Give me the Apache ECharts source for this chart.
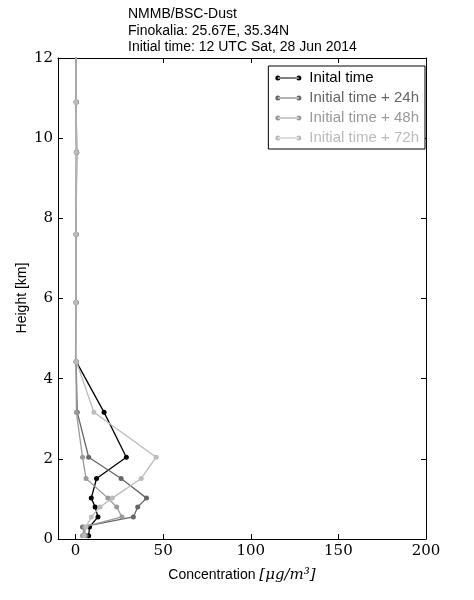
<!DOCTYPE html>
<html>
<head>
<meta charset="utf-8">
<script src="https://cdn.jsdelivr.net/npm/echarts@6/dist/echarts.min.js"></script>
<style>html,body{margin:0;padding:0;background:#fff;}#c{width:474px;height:600px;}</style>
</head>
<body>
<div id="c"></div>
<script>
const heights = [0.08, 0.3, 0.55, 0.8, 1.02, 1.51, 2.04, 3.16, 4.42, 5.9, 7.6, 9.65, 10.9, 12.6];
const t0   = [7.5, 8, 12.8, 11.2, 9, 12, 29, 16.3, 0.5, 0.4, 0.4, 0.6, 0.4, 0.4];
const t24  = [6, 4, 33, 35.5, 40.5, 26, 7.5, 1, 0.3, 0.3, 0.3, 0.6, 0.4, 0.4];
const t48  = [4, 5, 26.5, 23.5, 18.5, 6, 4, 0.5, 0.3, 0.3, 0.3, 0.4, 0.3, 0.3];
const t72  = [5, 6, 9, 14, 21, 37.5, 46, 10.5, 0.5, 0.3, 0.3, 0.4, 0.3, 0.3];
const seriesNames = ['Inital time', 'Initial time + 24h', 'Initial time + 48h', 'Initial time + 72h'];
const seriesColors = ['#000000', '#666666', '#999999', '#bbbbbb'];
const xTicks = [0, 50, 100, 150, 200];
const yTicks = [0, 2, 4, 6, 8, 10, 12];

const allVals = [t0, t24, t48, t72];
const chart = echarts.init(document.getElementById('c'), null, {renderer: 'canvas'});
const serif = '"DejaVu Serif", "Liberation Serif", serif';
const sans = '"Liberation Sans", Arial, sans-serif';

const legendIcon = 'path://M0,3A2.5,2.5,0,1,0,5,3A2.5,2.5,0,1,0,0,3ZM2.5,2.4L23.5,2.4L23.5,3.6L2.5,3.6ZM21,3A2.5,2.5,0,1,0,26,3A2.5,2.5,0,1,0,21,3Z';

const series = allVals.map((vals, i) => ({
  name: seriesNames[i],
  type: 'line',
  data: vals.map((v, k) => [v, heights[k]]),
  symbol: 'circle',
  symbolSize: 5,
  showSymbol: true,
  clip: true,
  z: 2 + i,
  lineStyle: {color: seriesColors[i], width: 1.3},
  itemStyle: {color: seriesColors[i]},
  emphasis: {disabled: true},
  animation: false
}));

const axisCommon = {
  axisLine: {show: true, onZero: false, lineStyle: {color: '#000', width: 1}},
  axisTick: {show: true, inside: true, length: 5, lineStyle: {color: '#000'}},
  splitLine: {show: false}
};

chart.setOption({
  animation: false,
  title: {
    text: 'NMMB/BSC-Dust\nFinokalia: 25.67E, 35.34N\nInitial time: 12 UTC Sat, 28 Jun 2014',
    left: 123, top: 1,
    textStyle: {fontSize: 14, lineHeight: 16.5, fontWeight: 'normal', color: '#000', fontFamily: sans}
  },
  legend: {
    orient: 'vertical',
    right: 49, top: 66,
    padding: [4, 6, 3, 7],
    itemGap: 4,
    itemWidth: 26, itemHeight: 6,
    icon: legendIcon,
    borderColor: '#000', borderWidth: 1,
    backgroundColor: '#fff',
    data: seriesNames.map((n, i) => ({name: n, textStyle: {color: seriesColors[i]}, itemStyle: {color: seriesColors[i]}})),
    textStyle: {fontSize: 15, lineHeight: 16, fontFamily: sans, padding: [0, 0, 0, 3]},
    selectedMode: false
  },
  graphic: [{
    type: 'text', x: 22, y: 298, rotation: Math.PI / 2,
    style: {text: 'Height [km]', fontFamily: sans, fontSize: 14, fill: '#000', align: 'center', verticalAlign: 'middle'}
  }],
  grid: {left: 58, right: 48, top: 58, bottom: 61, containLabel: false},
  xAxis: [
    Object.assign({}, axisCommon, {
      type: 'value', min: -10, max: 200, interval: 50, position: 'bottom',
      axisLabel: {
        show: true, color: '#000', fontFamily: serif, fontSize: 15, margin: 5,
        customValues: xTicks
      },
      axisTick: Object.assign({}, axisCommon.axisTick, {customValues: xTicks}),
      name: '{a|Concentration }{b|[μg/m³]}',
      nameLocation: 'middle', nameGap: 29,
      nameTextStyle: {
        rich: {
          a: {fontFamily: sans, fontSize: 14, color: '#000'},
          b: {fontFamily: serif, fontStyle: 'italic', fontSize: 15, color: '#000'}
        }
      }
    }),
    Object.assign({}, axisCommon, {
      type: 'value', min: -10, max: 200, position: 'top',
      axisLabel: {show: false, customValues: xTicks},
      axisTick: Object.assign({}, axisCommon.axisTick, {customValues: xTicks})
    })
  ],
  yAxis: [
    Object.assign({}, axisCommon, {
      type: 'value', min: 0, max: 12, interval: 2, position: 'left',
      axisLabel: {show: true, color: '#000', fontFamily: serif, fontSize: 15, margin: 5, customValues: yTicks},
      axisTick: Object.assign({}, axisCommon.axisTick, {customValues: yTicks})
    }),
    Object.assign({}, axisCommon, {
      type: 'value', min: 0, max: 12, interval: 2, position: 'right',
      axisLabel: {show: false},
      axisTick: Object.assign({}, axisCommon.axisTick, {customValues: yTicks})
    })
  ],
  series: series
});
</script>
</body>
</html>
